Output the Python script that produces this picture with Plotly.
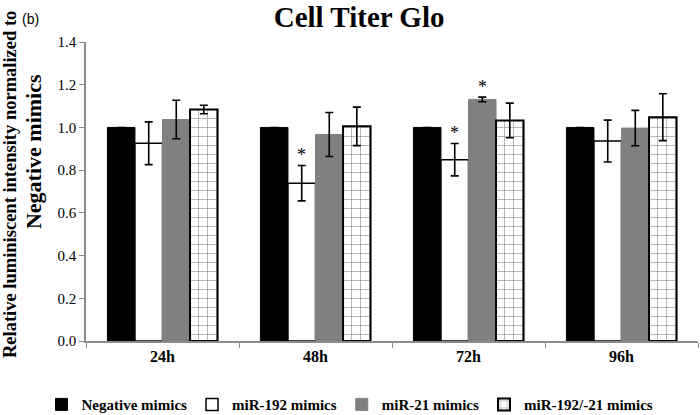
import plotly.graph_objects as go

# data
times = ["24h", "48h", "72h", "96h"]
groups = ["Negative mimics", "miR-192 mimics", "miR-21 mimics", "miR-192/-21 mimics"]

negative = [1.0, 1.0, 1.0, 1.0]
negative_err = [0.0, 0.0, 0.0, 0.0]
mir192 = [0.926, 0.739, 0.849, 0.936]
mir192_err = [0.10, 0.083, 0.076, 0.098]
mir21 = [1.037, 0.967, 1.131, 0.997]
mir21_err = [0.09, 0.103, 0.011, 0.083]
combo = [1.084, 1.005, 1.033, 1.048]
combo_err = [0.02, 0.09, 0.081, 0.11]

# significant bars: (time index, group index)
stars = [(1, 1), (2, 1), (2, 2)]

ytitle_lines = ["Relative luminiscent intensity normalized to", "Negative mimics"]

SERIF = "Liberation Serif, Times New Roman, serif"
BARGAP = 0.28

values = [negative, mir192, mir21, combo]
errors = [negative_err, mir192_err, mir21_err, combo_err]
styles = [
    dict(color="black", line=dict(color="black", width=1)),
    dict(color="white", line=dict(color="black", width=1.5)),
    dict(color="#808080", line=dict(color="#808080", width=1)),
    dict(color="white", line=dict(color="black", width=2),
         pattern=dict(shape="+", fgcolor="black", bgcolor="white", size=9, solidity=0.12)),
]

fig = go.Figure()
for name, v, e, st in zip(groups, values, errors, styles):
    fig.add_trace(go.Bar(
        x=times, y=v, name="<b>%s</b>" % name, marker=st,
        error_y=dict(type="data", array=e, visible=True, color="black", thickness=1.6, width=4),
    ))

n = len(groups)
bw = (1 - BARGAP) / n
for ti, gi in stars:
    top = values[gi][ti] + errors[gi][ti]
    fig.add_annotation(
        x=ti + (gi - (n - 1) / 2) * bw, y=top, text="*", showarrow=False,
        yanchor="bottom", yshift=-2, font=dict(family=SERIF, size=18, color="black"),
    )

fig.add_annotation(
    xref="paper", yref="paper", x=-0.108, y=1.077, xanchor="left", yanchor="middle",
    text="(b)", showarrow=False, font=dict(family="Liberation Sans, Arial", size=14, color="black"),
)
# y-axis title as two rotated lines, placed like the original
for txt, xp, yp, fs in zip(ytitle_lines, [-0.124, -0.0866], [0.522, 0.632], [18.5, 22]):
    fig.add_annotation(
        xref="paper", yref="paper", x=xp, y=yp, xanchor="center", yanchor="middle",
        textangle=-90, showarrow=False, text="<b>%s</b>" % txt,
        font=dict(family=SERIF, size=fs, color="black"),
    )

fig.update_layout(
    width=700, height=415,
    margin=dict(l=86, r=2, t=42, b=74, autoexpand=False),
    paper_bgcolor="white", plot_bgcolor="white",
    barmode="group", bargap=BARGAP, bargroupgap=0,
    title=dict(text="<b>Cell Titer Glo</b>", xref="container", x=0.513, xanchor="center",
               yref="container", y=0.984, yanchor="top",
               font=dict(family=SERIF, size=29, color="black")),
    showlegend=True,
    legend=dict(orientation="h", xref="container", x=0.5, xanchor="center",
                yref="container", y=0.025, yanchor="middle", itemwidth=30,
                font=dict(family=SERIF, size=15, color="black"), traceorder="normal"),
    font=dict(family=SERIF, color="black"),
)
fig.update_xaxes(
    type="category", showline=True, linecolor="#8c8c8c", linewidth=1.5,
    ticks="outside", tickson="boundaries", ticklen=5, tickcolor="#8c8c8c",
    showgrid=False, tickfont=dict(family=SERIF, size=16, color="black"),
    ticktext=["<b>%s</b>" % t for t in times], tickvals=times,
)
fig.update_yaxes(
    range=[0, 1.4], dtick=0.2, tickformat=".1f", showline=True, linecolor="#8c8c8c",
    linewidth=1.5, ticks="outside", ticklen=5, tickcolor="#8c8c8c", showgrid=False,
    zeroline=False, tickfont=dict(family=SERIF, size=15, color="black"),
)

fig.write_html("out.html", config={"displayModeBar": False},
               post_script="document.body.style.margin='0';")
